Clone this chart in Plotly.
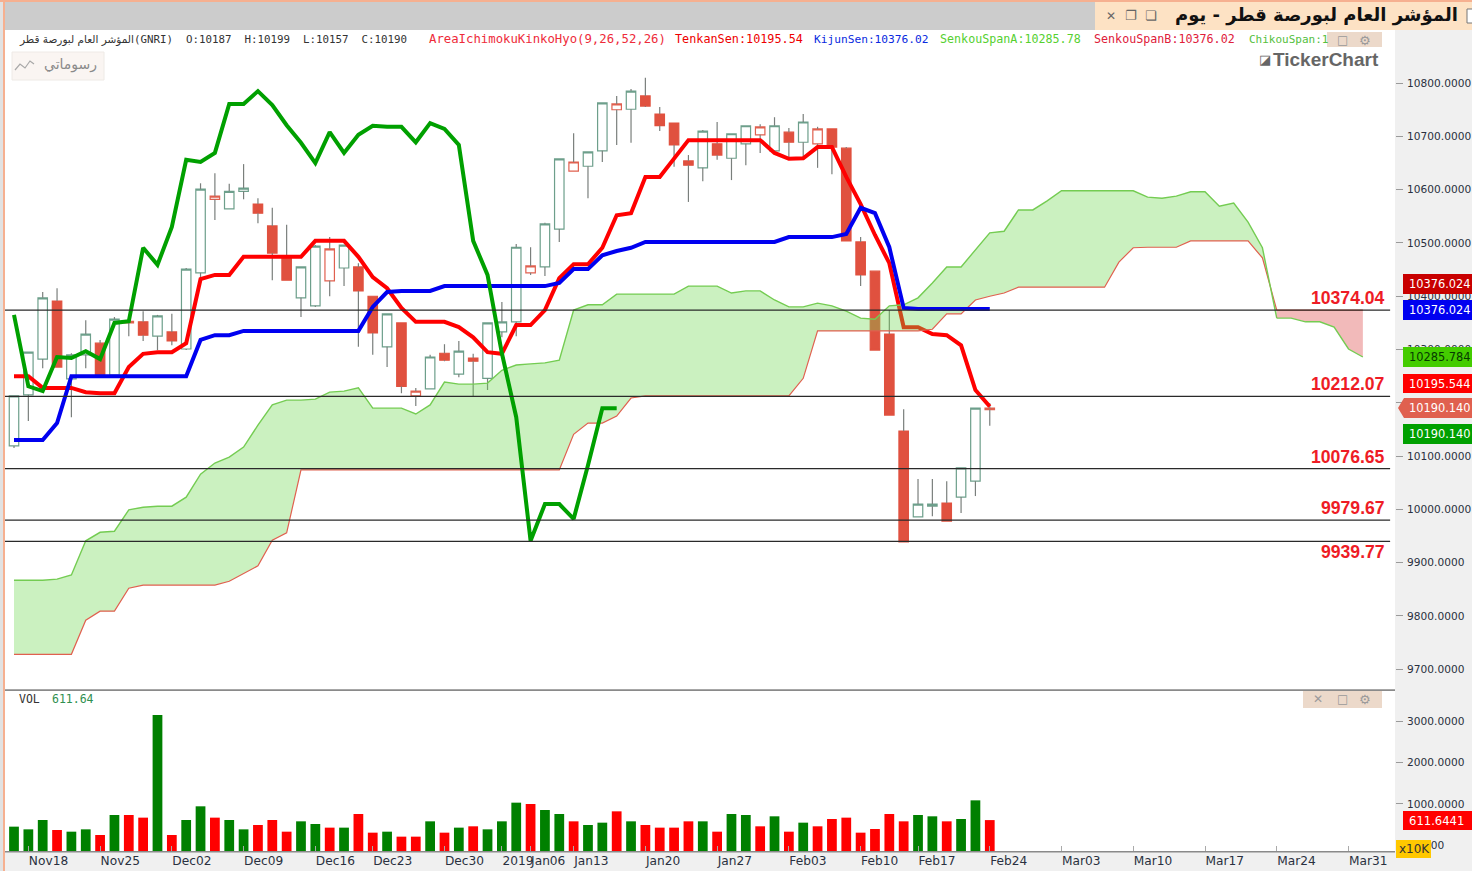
import plotly.graph_objects as go

W, H = 1472, 871

# ---------- data ----------
kinds = ["g","g","g","r","g","g","r","g","h","r","g","r","g","g","h","g","g","r","r","r",
    "g","g","h","g","r","r","g","r","h","g","r","g","r","g","g","g","h","g","g","h",
    "g","g","h","g","r","r","r","r","g","r","g","g","h","g","r","g","h","r","r","r",
    "r","r","r","g","g","r","g","g","h"]
opens = [10119,10215,10282,10391,10245,10290,10312,10252,10350,10352,10325,10333,10301,10444,10582,10564,10597,10573,10532,10474,
         10397,10382,10429,10453,10455,10400,10305,10350,10213,10226,10293,10254,10284,10246,10333,10352,10444,10455,10526,10635,
         10644,10673,10750,10751,10776,10742,10725,10654,10641,10686,10659,10686,10703,10673,10708,10689,10686,10714,10678,10502,
         10447,10329,10147,9986,10006,10012,10023,10053,10187]
highs = [10213,10295,10408,10415,10293,10355,10318,10361,10363,10372,10365,10367,10453,10612,10631,10611,10648,10584,10566,10534,
         10455,10496,10511,10496,10462,10400,10367,10350,10228,10290,10310,10316,10292,10350,10389,10498,10492,10538,10658,10706,
         10671,10763,10776,10789,10810,10755,10725,10665,10712,10727,10705,10720,10723,10736,10716,10742,10718,10714,10680,10511,
         10447,10374,10188,10057,10057,10053,10078,10190,10199]
lows = [10115,10166,10265,10267,10173,10265,10252,10252,10325,10316,10299,10308,10299,10432,10543,10564,10582,10537,10430,10430,
        10361,10380,10400,10419,10305,10290,10267,10218,10194,10226,10278,10248,10211,10224,10323,10325,10440,10438,10502,10635,
        10584,10652,10684,10688,10755,10710,10643,10577,10616,10656,10618,10646,10669,10673,10659,10661,10641,10629,10504,10419,
        10299,10177,9939,9986,9987,9978,9993,10025,10157]
closes = [10213,10295,10397,10267,10290,10329,10252,10357,10353,10327,10363,10316,10451,10601,10588,10597,10603,10556,10481,10430,
          10455,10494,10489,10496,10410,10331,10367,10231,10222,10286,10280,10297,10278,10350,10352,10492,10457,10536,10658,10652,
          10671,10763,10761,10785,10757,10720,10684,10646,10710,10665,10705,10720,10718,10720,10689,10727,10714,10680,10504,10440,
          10299,10177,9939,10010,10010,9978,10078,10190,10190]

tenkan = [10250,10250,10228,10228,10228,10220,10218,10218,10267,10292,10295,10295,10312,10432,10440,10440,10474,10474,10474,10474,
          10474,10504,10504,10504,10474,10436,10415,10378,10352,10352,10352,10342,10323,10295,10292,10346,10346,10374,10434,10460,
          10460,10491,10552,10556,10624,10624,10659,10693,10693,10693,10693,10693,10693,10669,10658,10659,10680,10680,10624,10573,
          10515,10462,10342,10342,10329,10327,10308,10224,10193]
kijun = [10130,10130,10130,10162,10250,10250,10250,10250,10250,10250,10250,10250,10250,10318,10327,10327,10335,10335,10335,10335,
         10335,10335,10335,10335,10335,10380,10408,10410,10410,10410,10419,10419,10419,10419,10419,10419,10419,10419,10425,10451,
         10451,10477,10485,10491,10502,10502,10502,10502,10502,10502,10502,10502,10502,10502,10511,10511,10511,10511,10517,10566,
         10556,10492,10378,10376,10376,10376,10376,10376,10376]
chikou = [10365,10231,10222,10286,10284,10297,10282,10350,10353,10491,10459,10530,10656,10652,10669,10761,10761,10785,10759,10721,
          10688,10650,10708,10669,10703,10720,10718,10718,10689,10725,10714,10684,10504,10440,10293,10173,9941,10010,10010,9982,
          10083,10190,10190]
span_a = [9867,9867,9867,9869,9877,9941,9957,9959,9999,10004,10006,10006,10023,10066,10087,10098,10117,10158,10196,10205,
          10205,10207,10220,10222,10228,10190,10190,10190,10179,10196,10239,10235,10235,10237,10261,10271,10273,10275,10280,10374,
          10384,10384,10404,10404,10404,10404,10404,10419,10419,10419,10406,10410,10410,10393,10380,10380,10387,10382,10372,10359,
          10357,10382,10384,10397,10425,10455,10455,10487,10519,10522,10562,10562,10579,10598,10598,10598,10598,10598,10598,10586,
          10584,10588,10596,10596,10569,10575,10539,10491,10359,10359,10352,10352,10342,10301,10286]
span_b = [9728,9728,9728,9728,9728,9792,9809,9809,9852,9858,9858,9858,9858,9858,9858,9865,9879,9894,9942,9956,
          10074,10074,10074,10074,10074,10074,10074,10074,10074,10074,10074,10074,10074,10074,10074,10074,10074,10074,10074,10141,
          10162,10162,10175,10209,10213,10213,10213,10213,10213,10213,10213,10213,10213,10213,10213,10246,10335,10335,10335,10335,
          10335,10335,10335,10335,10338,10367,10367,10393,10400,10406,10417,10417,10417,10417,10417,10417,10417,10464,10491,10492,
          10492,10492,10504,10504,10504,10504,10504,10472,10374,10374,10374,10374,10374,10374,10374]
levels = [10374.04, 10212.07, 10076.65, 9979.67, 9939.77]

volume = [454,389,614,373,333,389,253,735,735,671,3144,253,614,944,671,614,389,494,614,333,
          582,518,430,430,759,309,333,213,213,582,309,430,462,389,582,1032,1000,855,759,582,
          494,550,823,582,494,430,430,582,582,333,759,735,462,703,333,550,462,638,671,309,
          397,759,582,735,703,582,638,1088,612]
vol_up = list("gggrggrgrrgrggrggrrrggrgrrgrrgrgrgggrggrggrgrrrrgrggrgrgrrrrrrrggrggr")

date_pos = [1,6,11,16,21,25,30,34,36,39,44,49,54,59,63,68,73,78,83,88,93]
date_txt = ["Nov18","Nov25","Dec02","Dec09","Dec16","Dec23","Dec30","2019","Jan06","Jan13","Jan20",
            "Jan27","Feb03","Feb10","Feb17","Feb24","Mar03","Mar10","Mar17","Mar24","Mar31"]
price_ticks = [9700,9800,9900,10000,10100,10200,10300,10400,10500,10600,10700,10800]
vol_ticks = [0,1000,2000,3000]

TITLE = "المؤشر العام لبورصة قطر - يوم"
NAME = "المؤشر العام لبورصة قطر"
MY_DRAWINGS = "رسوماتي"

# ---------- helpers ----------
px = lambda v: v / W
py = lambda v: 1 - v / H
ann, shp = [], []

def text(x, y, s, color="#222", size=12, family="DejaVu Sans", anchor="left"):
    ann.append(dict(xref="paper", yref="paper", x=px(x), y=py(y), text=s, showarrow=False, xanchor=anchor,
                    yanchor="middle", font=dict(color=color, size=size, family=family), borderpad=0))

def rect(x0, y0, x1, y1, fill, line=None, layer="above"):
    shp.append(dict(type="rect", xref="paper", yref="paper", x0=px(x0), x1=px(x1), y0=py(y0), y1=py(y1),
                    fillcolor=fill, line=dict(color=line or fill, width=1 if line else 0), layer=layer))

MONO = "DejaVu Sans Mono"
XR = [-0.627, 96.24]
fig = go.Figure()

# wicks outside the bodies
wx, wy = [], []
for i, (o, hi, lo, c) in enumerate(zip(opens, highs, lows, closes)):
    t, b = max(o, c), min(o, c)
    wx += [i, i, None, i, i, None]
    wy += [hi, t, None, b, lo, None]
fig.add_trace(go.Scatter(x=wx, y=wy, mode="lines", line=dict(color="#7a7f7c", width=1.2), hoverinfo="skip"))

# candle bodies, three styles
styles = {"g": ("#6d9f8b", "#ffffff"), "h": ("#e0604f", "#ffffff"), "r": ("#e0513f", "#e0513f")}
for k, (edge, fill) in styles.items():
    idx = [i for i, q in enumerate(kinds) if q == k]
    tops = [max(opens[i], closes[i]) for i in idx]
    bots = [min(opens[i], closes[i]) for i in idx]
    if k == "r":
        o_, c_ = tops, bots
    else:
        o_, c_ = bots, tops
    side = dict(line=dict(color=edge, width=1.2), fillcolor=fill)
    fig.add_trace(go.Candlestick(x=idx, open=o_, high=tops, low=bots, close=c_, whiskerwidth=0,
                                 increasing=side, decreasing=side, showlegend=False))

fig.add_trace(go.Scatter(x=list(range(len(tenkan))), y=tenkan, mode="lines", line=dict(color="#ff0000", width=4)))

# cloud: green part then pink part
n1 = 89
xs = list(range(len(span_a)))
fig.add_trace(go.Scatter(x=xs[:n1], y=span_b[:n1], mode="lines", line=dict(color="#e0604f", width=1.2)))
fig.add_trace(go.Scatter(x=xs[:n1], y=span_a[:n1], mode="lines", line=dict(color="#74cc52", width=1.4),
                         fill="tonexty", fillcolor="rgba(110,215,80,0.36)"))
fig.add_trace(go.Scatter(x=xs[n1-1:], y=span_b[n1-1:], mode="lines", line=dict(color="#e0604f", width=1.2)))
fig.add_trace(go.Scatter(x=xs[n1-1:], y=span_a[n1-1:], mode="lines", line=dict(color="#74cc52", width=1.4),
                         fill="tonexty", fillcolor="rgba(225,90,90,0.42)"))

fig.add_trace(go.Scatter(x=list(range(len(kijun))), y=kijun, mode="lines", line=dict(color="#0000f0", width=4)))
fig.add_trace(go.Scatter(x=list(range(len(chikou))), y=chikou, mode="lines", line=dict(color="#00a000", width=4)))

# volume, drawn from the bottom of the pane
VOL_MIN = -157
fig.add_trace(go.Bar(x=list(range(len(volume))), y=[v - VOL_MIN for v in volume], base=VOL_MIN, width=0.68,
                     marker=dict(color=["#008000" if c == "g" else "#ff0000" for c in vol_up], line=dict(width=0)),
                     xaxis="x2", yaxis="y2"))

# level lines
for lv in levels:
    shp.append(dict(type="line", xref="x", yref="y", x0=XR[0], x1=95.9, y0=lv, y1=lv,
                    line=dict(color="#2a2a2a", width=1.3), layer="above"))

# ---------- chrome ----------
rect(0, 0, 3, H, "#e2e2e2", layer="below")
rect(3, 0, 5, H, "#f6b090", layer="below")
rect(5, 2, 1095, 30, "#cccccc")
rect(1095, 2, W, 30, "#fde2c4")
rect(0, 0, W, 2, "#f6b090")
rect(5, 689.3, 1395, 691, "#8a8a8a")
rect(5, 851, 1395, 852.6, "#8a8a8a")
rect(1467, 9, 1474, 23, "#ffffff", "#777777")

# panel control boxes
rect(1327, 32, 1382, 47, "#ecd9ca")
rect(1303, 691, 1382, 708, "#ecd9ca")

# my-drawings button + zigzag
rect(12, 52, 104, 80, "#faf5f2", "#eeeae6")
pts = [(15, 70), (20, 64), (25, 68), (30, 61), (34, 64)]
shp.append(dict(type="path", xref="paper", yref="paper", layer="above",
                path="M " + " L ".join(f"{px(x)} {py(y)}" for x, y in pts),
                line=dict(color="#a8a8a8", width=1.2)))
text(70, 64, MY_DRAWINGS, color="#8a8a8a", size=14, anchor="center")

# title bar
text(1459, 15, "<b>" + TITLE + "</b>", color="#111111", size=18, anchor="right")
text(1111, 16, "✕", color="#666666", size=12, anchor="center")
text(1131, 16, "❐", color="#666666", size=13, anchor="center")
text(1151, 16, "❏", color="#666666", size=13, anchor="center")

# legend row
text(18, 39, NAME, color="#333333", size=10.5)
text(133, 39, "(GNRI)  O:10187  H:10199  L:10157  C:10190", color="#333333", size=10.8, family=MONO)
text(428, 39, "AreaIchimokuKinkoHyo(9,26,52,26)", color="#ee2b3a", size=12.3, family=MONO)
text(674, 39, "TenkanSen:10195.54", color="#ee0000", size=11.8, family=MONO)
text(813, 39, "KijunSen:10376.02", color="#0a2ae0", size=11.2, family=MONO)
text(939, 39, "SenkouSpanA:10285.78", color="#55d030", size=11.7, family=MONO)
text(1093, 39, "SenkouSpanB:10376.02", color="#e0203a", size=11.7, family=MONO)
text(1248, 39, "ChikouSpan:1", color="#55c040", size=11, family=MONO)
text(1342, 40, "□", color="#9a9a9a", size=12, anchor="center")
text(1365, 40, "⚙", color="#9a9a9a", size=13, anchor="center")

# watermark
text(1258, 60, "◪", color="#666666", size=13)
text(1272, 60, "<b>TickerChart</b>", color="#666666", size=19, family="Liberation Sans")

# VOL label and its panel icons
text(18, 699, "VOL", color="#333333", size=11.5, family=MONO)
text(51, 699, "611.64", color="#2f8f4f", size=11.5, family=MONO)
text(1318, 699, "✕", color="#9a9a9a", size=12, anchor="center")
text(1342, 699, "□", color="#9a9a9a", size=12, anchor="center")
text(1365, 699, "⚙", color="#9a9a9a", size=13, anchor="center")

# level labels
for s, yy in zip(levels, [298, 384, 457, 508, 552]):
    text(1386, yy, "<b>%.2f</b>" % s, color="#ee1c25", size=17.6, family="Liberation Sans", anchor="right")

# price flags
flags = [(274, 294, "10376.024", "#c80000", "#ffffff"), (300, 320, "10376.024", "#0000f0", "#ffffff"),
         (347, 367, "10285.784", "#44cc00", "#063a00"), (374, 393, "10195.544", "#ff0000", "#ffffff"),
         (424, 444, "10190.140", "#00a000", "#ffffff")]
for y0, y1, s, bg, fg in flags:
    rect(1403, y0, W, y1, bg)
    text(1408, (y0 + y1) / 2, s, color=fg, size=11.4)
yy = 408
shp.append(dict(type="path", xref="paper", yref="paper", layer="above", fillcolor="#e0604f",
                line=dict(width=0),
                path=f"M {px(1398)} {py(yy)} L {px(1404)} {py(yy-10)} L {px(W)} {py(yy-10)} "
                     f"L {px(W)} {py(yy+10)} L {px(1404)} {py(yy+10)} Z"))
text(1408, yy, "10190.140", color="#ffffff", size=11.4)
rect(1403, 811, W, 830, "#ff0000")
text(1408, 820.5, "611.6441", color="#ffffff", size=11.6)
rect(1396, 840, 1431, 858, "#ffc800")
text(1398, 849, "x10K", color="#333333", size=12)

y_font = dict(family="DejaVu Sans", size=10.6, color="#2a3040")
x_font = dict(family="DejaVu Sans", size=12.2, color="#2a3040")
fig.update_layout(
    width=W, height=H, margin=dict(l=0, r=0, t=0, b=0, autoexpand=False), autosize=False,
    paper_bgcolor="#f0f0f0", plot_bgcolor="#ffffff", showlegend=False,
    boxgap=0.34, boxgroupgap=0, boxmode="overlay",
    annotations=ann, shapes=shp,
    xaxis=dict(domain=[px(5), px(1395)], range=XR, showgrid=False, zeroline=False, showticklabels=False,
               ticks="", rangeslider=dict(visible=False), anchor="y"),
    yaxis=dict(domain=[py(690), py(30)], range=[9661, 10899.7], side="right", showgrid=False, zeroline=False,
               tickvals=price_ticks, tickformat=".4f", ticks="outside", ticklen=7, tickcolor="#9a9a9a",
               tickfont=y_font, anchor="x", showline=False, ticklabelstandoff=2),
    xaxis2=dict(domain=[px(5), px(1395)], range=XR, showgrid=False, zeroline=False, tickvals=date_pos,
                ticktext=date_txt, ticks="inside", ticklen=6, tickcolor="#aaaaaa", tickfont=x_font,
                ticklabelposition="outside right", anchor="y2", tickangle=0),
    yaxis2=dict(domain=[py(852), py(690)], range=[VOL_MIN, 3747], side="right", showgrid=False, zeroline=False,
                tickvals=vol_ticks, tickformat=".4f", ticks="outside", ticklen=7, tickcolor="#9a9a9a",
                tickfont=y_font, anchor="x2", showline=False, ticklabelstandoff=2),
)

fig.write_html("out.html", config=dict(displayModeBar=False),
               post_script="document.body.style.margin='0';document.body.style.overflow='hidden';")
